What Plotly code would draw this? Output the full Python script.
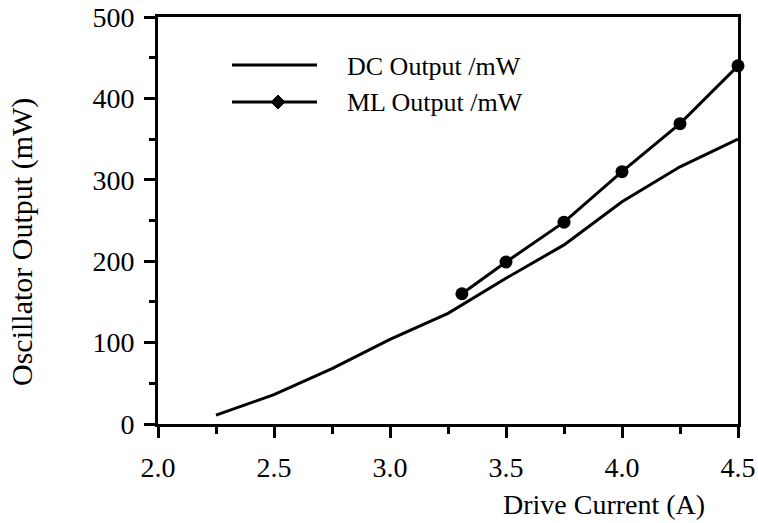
import plotly.graph_objects as go

# Data
dc_current = [2.25, 2.5, 2.75, 3.0, 3.25, 3.5, 3.75, 4.0, 4.25, 4.5]
dc_output = [11, 36, 68, 104, 136, 179, 220, 273, 316, 350]

ml_current = [3.31, 3.5, 3.75, 4.0, 4.25, 4.5]
ml_output = [160, 199, 248, 310, 369, 440]

x_ticks = [2.0, 2.5, 3.0, 3.5, 4.0, 4.5]
x_tick_labels = ["2.0", "2.5", "3.0", "3.5", "4.0", "4.5"]
y_ticks = [0, 100, 200, 300, 400, 500]

legend_names = ["DC Output /mW", "ML Output /mW"]

FONT = "Liberation Serif"
W, H = 758, 523
L, R, T, B = 158, 20, 17, 99

fig = go.Figure()
fig.add_trace(go.Scatter(x=dc_current, y=dc_output, mode="lines",
                         line=dict(color="black", width=3), name=legend_names[0],
                         showlegend=False, cliponaxis=False))
fig.add_trace(go.Scatter(x=ml_current, y=ml_output, mode="lines+markers",
                         line=dict(color="black", width=3),
                         marker=dict(symbol="circle", size=13, color="black"),
                         name=legend_names[1], showlegend=False, cliponaxis=False))

pw, ph = W - L - R, H - T - B


def px(xp):
    return (xp - L) / pw


def py(yp):
    return (H - B - yp) / ph


# Manual legend
shapes = []
annotations = []
leg_y = [65, 102]
for i, name in enumerate(legend_names):
    shapes.append(dict(type="line", xref="paper", yref="paper",
                       x0=px(232), x1=px(317), y0=py(leg_y[i]), y1=py(leg_y[i]),
                       line=dict(color="black", width=3)))
    annotations.append(dict(text=name, xref="paper", yref="paper",
                            x=px(345), y=py(leg_y[i] + 1), xanchor="left", yanchor="middle",
                            showarrow=False, font=dict(family=FONT, size=26, color="black")))
# diamond marker in legend
cx, cy, d = 278, 102, 7
shapes.append(dict(type="path", xref="paper", yref="paper",
                   path=f"M {px(cx - d)} {py(cy)} L {px(cx)} {py(cy - d)} L {px(cx + d)} {py(cy)} L {px(cx)} {py(cy + d)} Z",
                   fillcolor="black", line=dict(color="black", width=1)))

annotations.append(dict(text="Drive Current (A)", xref="paper", yref="paper",
                        x=px(604), y=py(505), xanchor="center", yanchor="middle",
                        showarrow=False, font=dict(family=FONT, size=28, color="black")))
annotations.append(dict(text="Oscillator Output (mW)", xref="paper", yref="paper",
                        x=px(22), y=py(242), xanchor="center", yanchor="middle",
                        textangle=-90, showarrow=False,
                        font=dict(family=FONT, size=30, color="black")))

fig.update_layout(
    width=W, height=H,
    margin=dict(l=L, r=R, t=T, b=B, autoexpand=False),
    paper_bgcolor="white", plot_bgcolor="white",
    font=dict(family=FONT, color="black"),
    shapes=shapes, annotations=annotations,
    showlegend=False,
)
fig.update_xaxes(range=[2.0, 4.5], tickvals=x_ticks, ticktext=x_tick_labels,
                 automargin=False,
                 ticks="outside", ticklen=11, tickwidth=3, tickcolor="black",
                 minor=dict(dtick=0.25, tick0=2.0, ticks="outside", ticklen=7, tickwidth=3, tickcolor="black"),
                 showline=True, linewidth=3, linecolor="black", mirror=True,
                 showgrid=False, zeroline=False,
                 tickfont=dict(family=FONT, size=28, color="black"),
                 ticklabelstandoff=5)
fig.update_yaxes(range=[0, 500], tickvals=y_ticks,
                 automargin=False,
                 ticks="outside", ticklen=11, tickwidth=3, tickcolor="black",
                 minor=dict(dtick=50, tick0=0, ticks="outside", ticklen=6, tickwidth=3, tickcolor="black"),
                 showline=True, linewidth=3, linecolor="black", mirror=True,
                 showgrid=False, zeroline=False,
                 tickfont=dict(family=FONT, size=28, color="black"),
                 ticklabelstandoff=4)

fig.write_html("out.html", config={"displayModeBar": False},
               post_script="document.body.style.margin='0';document.body.style.overflow='hidden';")
